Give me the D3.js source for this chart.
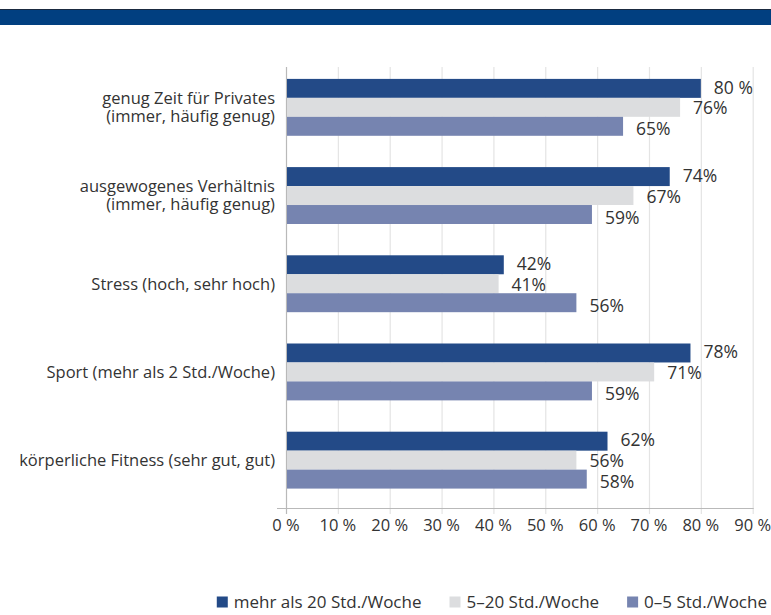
<!DOCTYPE html>
<html>
<head>
<meta charset="utf-8">
<script src="https://d3js.org/d3.v7.min.js"></script>
<style>
    html, body {
        margin: 0;
        padding: 0;
        background-color: white;
    }
    text {
        font-family: "Open Sans", "Noto Sans", sans-serif;
        fill: #333;
    }
</style>
</head>
<body>
<script>

    // DATA
    const categories = [
        ["genug Zeit für Privates", "(immer, häufig genug)"],
        ["ausgewogenes Verhältnis", "(immer, häufig genug)"],
        ["Stress (hoch, sehr hoch)"],
        ["Sport (mehr als 2 Std./Woche)"],
        ["körperliche Fitness (sehr gut, gut)"]
    ];
    const seriesNames = ["mehr als 20 Std./Woche", "5–20 Std./Woche", "0–5 Std./Woche"];
    const over20 = [80, 74, 42, 78, 62];
    const from5to20 = [76, 67, 41, 71, 56];
    const under5 = [65, 59, 56, 59, 58];
    const over20Labels = ["80 %", "74%", "42%", "78%", "62%"];
    const tickValues = [0, 10, 20, 30, 40, 50, 60, 70, 80, 90];

    // DESIGN CONSTANTS
    const width = 771;
    const height = 615;
    const colors = ["#234a87", "#dcdddf", "#7684b0"];
    const gridColor = "#e4e4e4";
    const axisColor = "#b9b9b9";

    const svg = d3.select("body").append("svg")
        .attr("width", width)
        .attr("height", height);

    // top banner
    svg.append("rect")
        .attr("x", 0).attr("y", 9)
        .attr("width", width).attr("height", 16)
        .attr("fill", "#013f80");
    svg.append("line")
        .attr("x1", 0).attr("x2", width)
        .attr("y1", 9.5).attr("y2", 9.5)
        .attr("stroke", "#1a2a40").attr("stroke-width", 1);

    // scales
    const plotTop = 67, plotBottom = 508;
    const x = d3.scaleLinear().domain([0, 90]).range([286, 752.7]);
    const y = d3.scaleBand()
        .domain(d3.range(categories.length))
        .range([plotTop, plotBottom])
        .paddingInner(0.355)
        .paddingOuter(0.1775)
        .align(0.38);
    const inner = d3.scaleBand()
        .domain(d3.range(3))
        .range([0, y.bandwidth()]);

    // vertical gridlines
    svg.append("g")
        .selectAll("line")
        .data(tickValues.slice(1))
        .join("line")
        .attr("x1", d => x(d) + 0.5).attr("x2", d => x(d) + 0.5)
        .attr("y1", plotTop).attr("y2", plotBottom + 6)
        .attr("stroke", gridColor).attr("stroke-width", 1.2);

    // axes lines
    svg.append("line")
        .attr("x1", 277).attr("x2", x(90) + 1)
        .attr("y1", plotBottom + 0.5).attr("y2", plotBottom + 0.5)
        .attr("stroke", axisColor).attr("stroke-width", 1.2);
    svg.append("line")
        .attr("x1", x(0) + 0.5).attr("x2", x(0) + 0.5)
        .attr("y1", plotTop).attr("y2", plotBottom + 6)
        .attr("stroke", axisColor).attr("stroke-width", 1.2);

    // tick labels
    svg.append("g")
        .selectAll("text")
        .data(tickValues)
        .join("text")
        .attr("x", d => x(d))
        .attr("y", 525)
        .attr("dy", "0.35em")
        .attr("text-anchor", "middle")
        .style("font-size", "16.5px")
        .text(d => d + " %");

    // bars
    const series = [over20, from5to20, under5];
    const labelShift = [-1, 1, 3];
    series.forEach(function(values, s) {
        const g = svg.append("g");
        g.selectAll("rect")
            .data(values)
            .join("rect")
            .attr("x", x(0) + 1)
            .attr("y", (d, i) => y(i) + inner(s))
            .attr("width", d => x(d) - x(0) - 1)
            .attr("height", inner.bandwidth())
            .attr("fill", colors[s]);
        g.selectAll("text")
            .data(values)
            .join("text")
            .attr("x", d => x(d) + 13)
            .attr("y", (d, i) => y(i) + inner(s) + inner.bandwidth() / 2 + labelShift[s])
            .attr("dy", "0.35em")
            .style("font-size", "17.5px")
            .text((d, i) => s === 0 ? over20Labels[i] : d + "%");
    });

    // category labels
    const catG = svg.append("g");
    categories.forEach(function(lines, i) {
        const cy = y(i) + y.bandwidth() / 2;
        const t = catG.append("text")
            .attr("x", 275)
            .attr("text-anchor", "end")
            .style("font-size", "16.5px");
        lines.forEach(function(line, k) {
            t.append("tspan")
                .attr("x", 275)
                .attr("y", cy + (k - (lines.length - 1) / 2) * 18)
                .attr("dy", "0.35em")
                .text(line);
        });
    });

    // legend, right-aligned
    const legend = svg.append("g");
    const items = seriesNames.map(function(name, s) {
        const item = legend.append("g");
        item.append("rect")
            .attr("width", 11).attr("height", 11)
            .attr("y", -5.5)
            .attr("fill", colors[s]);
        const t = item.append("text")
            .attr("x", 17)
            .attr("dy", "0.35em")
            .style("font-size", "17px")
            .text(name);
        return { item: item, w: 17 + t.node().getComputedTextLength() };
    });
    let cursor = 767;
    for (let s = items.length - 1; s >= 0; s--) {
        cursor -= items[s].w;
        items[s].item.attr("transform", `translate(${cursor}, 602)`);
        cursor -= 28;
    }

</script>
</body>
</html>
